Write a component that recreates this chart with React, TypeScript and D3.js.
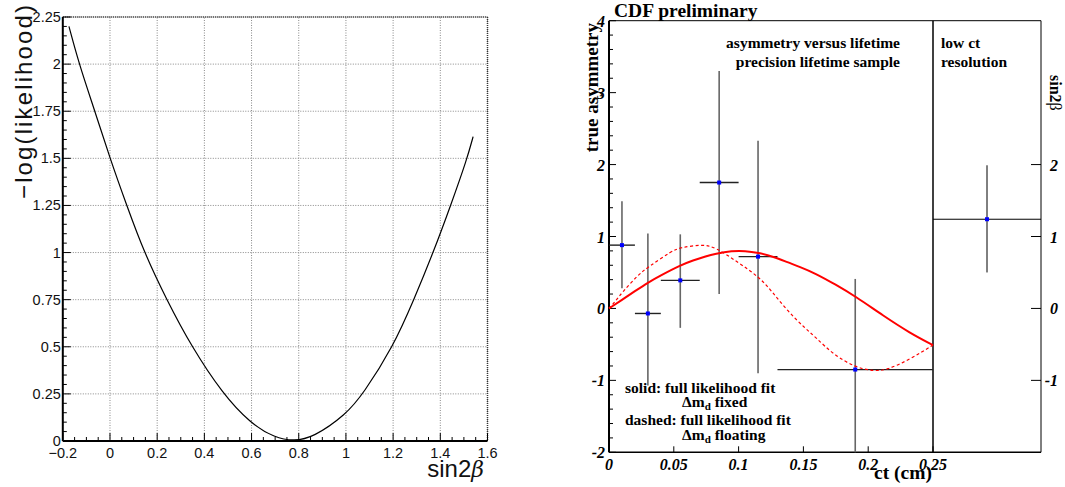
import * as d3 from 'd3'

// left panel: -log(likelihood) scan vs sin2beta
const scanSin = [-0.174, -0.131, -0.064, 0, 0.071, 0.145, 0.24, 0.346, 0.478, 0.594, 0.7, 0.78, 0.86, 1.0, 1.073, 1.2, 1.288, 1.37, 1.444, 1.514, 1.539]
const scanVal = [2.2, 2.0, 1.75, 1.5, 1.25, 1.0, 0.75, 0.5, 0.25, 0.095, 0.016, 0, 0.018, 0.14, 0.25, 0.5, 0.75, 1.0, 1.25, 1.5, 1.615]
const scanXTicks = [-0.2, 0, 0.2, 0.4, 0.6, 0.8, 1, 1.2, 1.4, 1.6]
const scanYTicks = [0, 0.25, 0.5, 0.75, 1, 1.25, 1.5, 1.75, 2, 2.25]
const scanXLabels = ['−0.2', '0', '0.2', '0.4', '0.6', '0.8', '1', '1.2', '1.4', '1.6']
const scanYLabels = ['0', '0.25', '0.5', '0.75', '1', '1.25', '1.5', '1.75', '2', '2.25']

// right panel: true asymmetry vs ct
const binLo = [0, 0.02, 0.04, 0.07, 0.1, 0.13]
const binHi = [0.02, 0.04, 0.07, 0.1, 0.13, 0.25]
const binCt = [0.01, 0.03, 0.055, 0.085, 0.115, 0.19]
const asym = [0.88, -0.07, 0.39, 1.75, 0.72, -0.85]
const asymLo = [0.28, -1.07, -0.27, 0.2, -0.9, -2.0]
const asymHi = [1.49, 1.04, 1.03, 3.3, 2.33, 0.41]

const solidCt = [0, 0.01, 0.02, 0.03, 0.04, 0.055, 0.065, 0.074, 0.082, 0.095, 0.105, 0.115, 0.127, 0.138, 0.147, 0.159, 0.175, 0.19, 0.2115, 0.232, 0.25]
const solidVal = [0, 0.12, 0.24, 0.36, 0.46, 0.6, 0.67, 0.72, 0.76, 0.8, 0.8, 0.775, 0.72, 0.64, 0.58, 0.49, 0.33, 0.17, -0.1, -0.34, -0.51]
const dashCt = [0, 0.005, 0.01, 0.0226, 0.03, 0.0484, 0.055, 0.0715, 0.082, 0.0998, 0.115, 0.1256, 0.138, 0.151, 0.16, 0.173, 0.19, 0.204, 0.214, 0.232, 0.25]
const dashVal = [0, 0.1, 0.22, 0.47, 0.57, 0.8, 0.845, 0.89, 0.855, 0.636, 0.45, 0.24, -0.04, -0.27, -0.41, -0.64, -0.82, -0.87, -0.86, -0.71, -0.51]

const ctTicks = [0, 0.05, 0.1, 0.15, 0.2, 0.25]
const ctLabels = ['0', '0.05', '0.1', '0.15', '0.2', '0.25']
const asymTicks = [-2, -1, 0, 1, 2, 3, 4]
const asymLabels = ['-2', '-1', '0', '1', '2', '3', '4']
const sinTicks = [-1, 0, 1, 2]
const sinLabels = ['-1', '0', '1', '2']

// low ct resolution bin
const lowCtVal = 1.24
const lowCtLo = 0.5
const lowCtHi = 1.99

const sans = '"Liberation Sans", Arial, sans-serif'
const serif = '"Liberation Serif", "Times New Roman", serif'

const ScanChart = () => {
  const x = d3.scaleLinear().domain([-0.2, 1.6]).range([62.8, 487.5])
  const y = d3.scaleLinear().domain([0, 2.25]).range([441, 17])
  const line = d3.line<number>()
    .x(i => x(scanSin[i]))
    .y(i => y(scanVal[i]))
    .curve(d3.curveBasis)
  const minorX = d3.range(0, 37).map(i => -0.2 + i * 0.05)
  const minorY = d3.range(0, 46).map(i => i * 0.05)
  const [x0, x1] = x.range()
  const [y0, y1] = y.range()

  return (
    <g>
      {/* grid */}
      {scanXTicks.map(t => (
        <line key={'gx' + t} x1={x(t)} x2={x(t)} y1={y0} y2={y1} stroke='#888' strokeWidth={1} strokeDasharray='1,1.5' />
      ))}
      {scanYTicks.map(t => (
        <line key={'gy' + t} x1={x0} x2={x1} y1={y(t)} y2={y(t)} stroke='#888' strokeWidth={1} strokeDasharray='1,1.5' />
      ))}
      {/* top / right frame */}
      <line x1={x0} x2={x1} y1={y1} y2={y1} stroke='#333' strokeWidth={1.5} strokeDasharray='1,1' />
      <line x1={x1} x2={x1} y1={y1} y2={y0} stroke='#333' strokeWidth={1.5} strokeDasharray='1,1' />

      <path d={line(scanSin.map((_, i) => i)) || ''} fill='none' stroke='#000' strokeWidth={1.2} />

      {/* axes */}
      <line x1={x0} x2={x1} y1={y0} y2={y0} stroke='#000' strokeWidth={2} />
      <line x1={x0} x2={x0} y1={y0} y2={y1} stroke='#000' strokeWidth={2} />
      {minorX.map((t, i) => (
        <line key={'mx' + i} x1={x(t)} x2={x(t)} y1={y0} y2={y0 - (i % 4 === 0 ? 8 : 4)} stroke='#000' strokeWidth={1} />
      ))}
      {minorY.map((t, i) => (
        <line key={'my' + i} x1={x0} x2={x0 + (i % 5 === 0 ? 8 : 4)} y1={y(t)} y2={y(t)} stroke='#000' strokeWidth={1} />
      ))}
      {scanXTicks.map((t, i) => (
        <text key={'lx' + t} x={x(t)} y={458} textAnchor='middle' fontFamily={sans} fontSize={14.5} fill='#111'>{scanXLabels[i]}</text>
      ))}
      {scanYTicks.map((t, i) => (
        <text key={'ly' + t} x={x0 - 2} y={y(t) + 5} textAnchor='end' fontFamily={sans} fontSize={14.5} fill='#111'>{scanYLabels[i]}</text>
      ))}
      <text transform='translate(32, 5) rotate(-90)' textAnchor='end' fontFamily={sans} fontSize={24} fill='#111' textLength={194} lengthAdjust='spacing'>−log(likelihood)</text>
      <text x={484} y={477} textAnchor='end' fontFamily={sans} fontSize={24} fill='#111'>sin2<tspan fontStyle='italic' fontFamily='"DejaVu Serif", serif' fontSize={22}>β</tspan></text>
    </g>
  )
}

const AsymChart = () => {
  const x = d3.scaleLinear().domain([0, 0.25]).range([609, 933])
  const y = d3.scaleLinear().domain([-2, 4]).range([452.3, 20.7])
  const px = d3.scaleLinear().domain([0, 1]).range([933, 1041])
  const solid = d3.line<number>().x(i => x(solidCt[i])).y(i => y(solidVal[i])).curve(d3.curveBasis)
  const dashed = d3.line<number>().x(i => x(dashCt[i])).y(i => y(dashVal[i])).curve(d3.curveBasis)
  const minorY = d3.range(0, 31).map(i => -2 + i * 0.2)
  const top = y(4)
  const bot = y(-2)
  const right = px(1)

  return (
    <g>
      <text x={614} y={16.5} fontFamily={serif} fontWeight='bold' fontSize={19.5}>CDF preliminary</text>

      {/* frame */}
      <line x1={x(0)} x2={right} y1={top} y2={top} stroke='#000' strokeWidth={1} />
      <line x1={x(0)} x2={right} y1={bot} y2={bot} stroke='#000' strokeWidth={1.5} />
      <line x1={x(0.25)} x2={x(0.25)} y1={top} y2={bot} stroke='#000' strokeWidth={1.5} />
      <line x1={right} x2={right} y1={top} y2={bot} stroke='#000' strokeWidth={1} />
      <line x1={x(0)} x2={x(0)} y1={top} y2={bot} stroke='#000' strokeWidth={2} />

      {/* left axis ticks */}
      {minorY.map((t, i) => (
        <line key={'my' + i} x1={x(0)} x2={x(0) + (i % 5 === 0 ? 7 : 4)} y1={y(t)} y2={y(t)} stroke='#000' strokeWidth={1} />
      ))}
      {asymTicks.map((t, i) => (
        <text key={'ly' + t} x={605} y={y(t) + 6} textAnchor='end' fontFamily={serif} fontWeight='bold' fontStyle='italic' fontSize={16}>{asymLabels[i]}</text>
      ))}
      {ctTicks.map((t, i) => (
        <g key={'lx' + t}>
          <line x1={x(t)} x2={x(t)} y1={bot} y2={bot - 6} stroke='#000' strokeWidth={1} />
          <text x={x(t)} y={470} textAnchor='middle' fontFamily={serif} fontWeight='bold' fontStyle='italic' fontSize={16}>{ctLabels[i]}</text>
        </g>
      ))}
      <text transform='translate(598, 23) rotate(-90)' textAnchor='end' fontFamily={serif} fontWeight='bold' fontSize={19}>true asymmetry</text>
      <text x={932} y={479} textAnchor='end' fontFamily={serif} fontWeight='bold' fontSize={19.5}>ct (cm)</text>

      {/* right axis */}
      {sinTicks.map((t, i) => (
        <g key={'rs' + t}>
          <line x1={right} x2={right - 10} y1={y(t)} y2={y(t)} stroke='#000' strokeWidth={1} />
          <text x={1058} y={y(t) + 6} textAnchor='end' fontFamily={serif} fontWeight='bold' fontStyle='italic' fontSize={16}>{sinLabels[i]}</text>
        </g>
      ))}
      <text transform='translate(1050, 75) rotate(90)' fontFamily={serif} fontWeight='bold' fontSize={16}>sin2<tspan fontWeight='normal'>β</tspan></text>

      {/* annotations */}
      <g fontFamily={serif} fontWeight='bold' fontSize={15.5}>
        <text x={900} y={48} textAnchor='end'>asymmetry versus lifetime</text>
        <text x={900} y={67} textAnchor='end'>precision lifetime sample</text>
        <text x={941} y={48}>low ct</text>
        <text x={941} y={67}>resolution</text>
      </g>

      {/* error bars */}
      {binCt.map((c, i) => (
        <g key={'pt' + i}>
          <line x1={x(c)} x2={x(c)} y1={y(asymLo[i])} y2={y(asymHi[i])} stroke='#666' strokeWidth={1.6} />
          <line x1={x(binLo[i])} x2={x(binHi[i])} y1={y(asym[i])} y2={y(asym[i])} stroke='#222' strokeWidth={1.4} />
        </g>
      ))}
      <line x1={px(0.5)} x2={px(0.5)} y1={y(lowCtLo)} y2={y(lowCtHi)} stroke='#000' strokeWidth={1} />
      <line x1={px(0)} x2={px(1)} y1={y(lowCtVal)} y2={y(lowCtVal)} stroke='#000' strokeWidth={1} />

      {/* fit curves */}
      <path d={dashed(dashCt.map((_, i) => i)) || ''} fill='none' stroke='#ff0000' strokeWidth={1.2} strokeDasharray='3,2.5' />
      <path d={solid(solidCt.map((_, i) => i)) || ''} fill='none' stroke='#ff0000' strokeWidth={2} />

      {/* markers */}
      {binCt.map((c, i) => (
        <rect key={'mk' + i} x={x(c) - 2} y={y(asym[i]) - 2} width={4} height={4} fill='#0000ff' />
      ))}
      <rect x={px(0.5) - 2} y={y(lowCtVal) - 2} width={4} height={4} fill='#0000ff' />

      {/* legend */}
      <g fontFamily={serif} fontWeight='bold' fontSize={15.5}>
        <text x={625} y={393}>solid: full likelihood fit</text>
        <text x={682} y={407}>Δm<tspan fontSize={11} dy={3}>d</tspan><tspan dy={-3}> fixed</tspan></text>
        <text x={625} y={425}>dashed: full likelihood fit</text>
        <text x={682} y={440}>Δm<tspan fontSize={11} dy={3}>d</tspan><tspan dy={-3}> floating</tspan></text>
      </g>
    </g>
  )
}

const App = () => {
  return (
    <svg width={1065} height={487} style={{ position: 'absolute', left: 0, top: 0, background: '#fff' }}>
      <ScanChart />
      <AsymChart />
    </svg>
  )
}

export default App
